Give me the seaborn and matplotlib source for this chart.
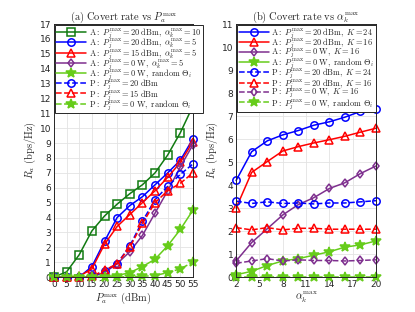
import numpy as np
import pandas as pd
import matplotlib
matplotlib.use("Agg")
import matplotlib.pyplot as plt
import seaborn as sns

sns.set_style("whitegrid")
plt.rcParams['font.family'] = ['DejaVu Sans']
plt.rcParams['mathtext.fontset'] = 'cm'

# ---------------- data: panel (a) ----------------
pa = [0, 5, 10, 15, 20, 25, 30, 35, 40, 45, 50, 55]
a_20_a10 = [0, 0.35, 1.5, 3.1, 4.1, 4.9, 5.6, 6.2, 7.0, 8.2, 9.7, 11.5]
a_20_a5 = [0, 0, 0, 0.7, 2.4, 4.0, 4.8, 5.4, 6.2, 7.0, 7.85, 9.3]
a_15_a5 = [0, 0, 0.05, 0.55, 2.2, 3.4, 4.2, 5.0, 5.8, 6.7, 7.7, 9.1]
a_0_a5 = [0, 0, 0, 0, 0.3, 0.9, 1.7, 2.8, 4.3, 5.8, 7.4, 8.9]
a_0_rand = [0, 0, 0, 0, 0.02, 0.1, 0.3, 0.7, 1.2, 2.1, 3.2, 4.5]
p_20 = [0, 0, 0, 0.05, 0.4, 0.9, 2.1, 3.75, 5.2, 6.1, 6.9, 7.6]
p_15 = [0, 0, 0, 0.05, 0.45, 0.9, 2.0, 3.6, 5.0, 5.8, 6.3, 7.0]
p_0_rand = [0, 0, 0, 0, 0, 0, 0.02, 0.05, 0.1, 0.3, 0.55, 1.0]

# ---------------- data: panel (b) ----------------
ak = [2, 4, 6, 8, 10, 12, 14, 16, 18, 20]
b_a_20_k24 = [4.2, 5.45, 5.92, 6.18, 6.37, 6.6, 6.75, 6.95, 7.2, 7.3]
b_a_20_k16 = [3.0, 4.55, 5.02, 5.48, 5.67, 5.83, 5.97, 6.12, 6.3, 6.47]
b_a_0_k16 = [0.7, 1.5, 2.1, 2.7, 3.15, 3.45, 3.85, 4.1, 4.5, 4.83]
b_a_0_rand = [0.1, 0.25, 0.5, 0.7, 0.8, 0.95, 1.1, 1.3, 1.4, 1.57]
b_p_20_k24 = [3.3, 3.2, 3.27, 3.2, 3.22, 3.18, 3.22, 3.22, 3.27, 3.32]
b_p_20_k16 = [2.15, 2.05, 2.15, 2.05, 2.12, 2.12, 2.08, 2.08, 2.08, 2.08]
b_p_0_k16 = [0.6, 0.7, 0.8, 0.7, 0.75, 0.72, 0.72, 0.7, 0.72, 0.75]
b_p_0_rand = [0.02, 0.02, 0.02, 0.02, 0.02, 0.02, 0.02, 0.02, 0.02, 0.02]

DG = "#117a11"
BL = "#0000ff"
RD = "#ff0000"
PU = "#7e2f8e"
LG = "#66cc1a"

TH = r"\mathbf{\Theta}_i"
series_a = [
    (a_20_a10, DG, 's', '-', r"$\mathrm{A{:}}\ P_j^{\max}=20\ \mathrm{dBm},\ \alpha_k^{\max}=10$"),
    (a_20_a5, BL, 'o', '-', r"$\mathrm{A{:}}\ P_j^{\max}=20\ \mathrm{dBm},\ \alpha_k^{\max}=5$"),
    (a_15_a5, RD, '^', '-', r"$\mathrm{A{:}}\ P_j^{\max}=15\ \mathrm{dBm},\ \alpha_k^{\max}=5$"),
    (a_0_a5, PU, 'd', '-', r"$\mathrm{A{:}}\ P_j^{\max}=0\ \mathrm{W},\ \alpha_k^{\max}=5$"),
    (a_0_rand, LG, '*', '-', r"$\mathrm{A{:}}\ P_j^{\max}=0\ \mathrm{W},\ \mathrm{random}\ " + TH + "$"),
    (p_20, BL, 'o', '--', r"$\mathrm{P{:}}\ P_j^{\max}=20\ \mathrm{dBm}$"),
    (p_15, RD, '^', '--', r"$\mathrm{P{:}}\ P_j^{\max}=15\ \mathrm{dBm}$"),
    (p_0_rand, LG, '*', '--', r"$\mathrm{P{:}}\ P_j^{\max}=0\ \mathrm{W},\ \mathrm{random}\ " + TH + "$"),
]
series_b = [
    (b_a_20_k24, BL, 'o', '-', r"$\mathrm{A{:}}\ P_j^{\max}=20\ \mathrm{dBm},\ K=24$"),
    (b_a_20_k16, RD, '^', '-', r"$\mathrm{A{:}}\ P_j^{\max}=20\ \mathrm{dBm},\ K=16$"),
    (b_a_0_k16, PU, 'd', '-', r"$\mathrm{A{:}}\ P_j^{\max}=0\ \mathrm{W},\ K=16$"),
    (b_a_0_rand, LG, '*', '-', r"$\mathrm{A{:}}\ P_j^{\max}=0\ \mathrm{W},\ \mathrm{random}\ " + TH + "$"),
    (b_p_20_k24, BL, 'o', '--', r"$\mathrm{P{:}}\ P_j^{\max}=20\ \mathrm{dBm},\ K=24$"),
    (b_p_20_k16, RD, '^', '--', r"$\mathrm{P{:}}\ P_j^{\max}=20\ \mathrm{dBm},\ K=16$"),
    (b_p_0_k16, PU, 'd', '--', r"$\mathrm{P{:}}\ P_j^{\max}=0\ \mathrm{W},\ K=16$"),
    (b_p_0_rand, LG, '*', '--', r"$\mathrm{P{:}}\ P_j^{\max}=0\ \mathrm{W},\ \mathrm{random}\ " + TH + "$"),
]

fig = plt.figure(figsize=(4.15, 3.12), dpi=100)
ax1 = fig.add_axes([0.130, 0.112, 0.335, 0.811])
ax2 = fig.add_axes([0.569, 0.112, 0.337, 0.811])

def draw(ax, x, series):
    for y, c, m, ls, label in series:
        ms = 7 if m == '*' else (4.5 if m == 'd' else 5.3)
        df = pd.DataFrame({"x": x, "y": y})
        sns.lineplot(data=df, x="x", y="y", ax=ax, color=c, marker=m,
                     linestyle=ls, linewidth=1.1, markersize=ms,
                     markerfacecolor='none' if m != '*' else c,
                     markeredgecolor=c, markeredgewidth=1.1,
                     label=label, estimator=None, sort=False, clip_on=False)

draw(ax1, pa, series_a)
draw(ax2, ak, series_b)

for ax in (ax1, ax2):
    ax.grid(True, color="#e3e3e3", linewidth=0.6)
    for sp in ax.spines.values():
        sp.set_color("#262626")
        sp.set_linewidth(0.7)
    ax.tick_params(axis='both', labelsize=6.5, direction='in', length=2,
                   pad=2, colors="#262626")
    ax.set_ylabel(r"$R_a\ \mathrm{(bps/Hz)}$", fontsize=7.5, labelpad=1)

ax1.set_xlim(0, 55)
ax1.set_xticks(pa)
ax1.set_ylim(0, 17)
ax1.set_yticks(range(0, 18))
ax1.set_xlabel(r"$P_a^{\max}\ \mathrm{(dBm)}$", fontsize=7.5, labelpad=1)
ax1.set_title(r"$\mathrm{(a)\ Covert\ rate\ vs\ }P_a^{\max}$", fontsize=7.5, pad=3)

ax2.set_xlim(2, 20)
ax2.set_xticks([2, 5, 8, 11, 14, 17, 20])
ax2.set_ylim(0, 11)
ax2.set_yticks(range(0, 12))
ax2.set_xlabel(r"$\alpha_k^{\max}$", fontsize=7.5, labelpad=1)
ax2.set_title(r"$\mathrm{(b)\ Covert\ rate\ vs\ }\alpha_k^{\max}$", fontsize=7.5, pad=3)

for ax in (ax1, ax2):
    leg = ax.legend(loc='upper left', bbox_to_anchor=(0.005, 0.997), fontsize=6,
                    frameon=True, fancybox=False, edgecolor='#262626',
                    framealpha=1, handlelength=3.6, handletextpad=0.3,
                    borderpad=0.2, labelspacing=-0.42, borderaxespad=0)
    leg.get_frame().set_linewidth(0.7)
    leg.set_zorder(10)

fig.savefig("out.png", dpi=100)
